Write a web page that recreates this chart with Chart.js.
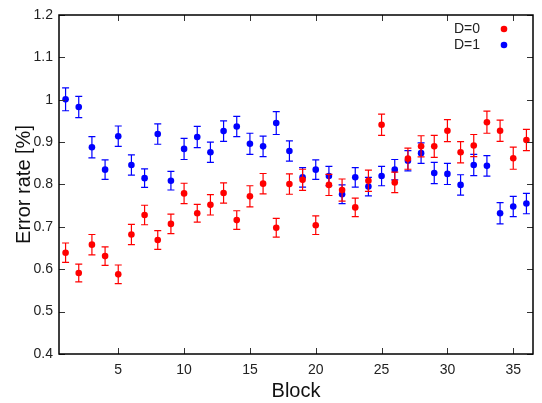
<!DOCTYPE html>
<html><head><meta charset="utf-8">
<script src="https://cdn.jsdelivr.net/npm/chart.js@4.4.0/dist/chart.umd.min.js"></script>
<style>html,body{margin:0;padding:0;background:#fff}</style>
</head><body>
<canvas id="c" width="542" height="403"></canvas>
<script>
const blocks = [1,2,3,4,5,6,7,8,9,10,11,12,13,14,15,16,17,18,19,20,21,22,23,24,25,26,27,28,29,30,31,32,33,34,35,36];
const d0 = [0.639,0.591,0.658,0.631,0.588,0.682,0.728,0.669,0.707,0.779,0.732,0.752,0.780,0.716,0.772,0.802,0.698,0.801,0.811,0.704,0.799,0.787,0.746,0.809,0.941,0.805,0.861,0.890,0.890,0.927,0.876,0.892,0.947,0.927,0.862,0.905];
const d0err = [0.023,0.021,0.024,0.022,0.022,0.024,0.023,0.022,0.023,0.024,0.021,0.024,0.024,0.022,0.025,0.024,0.022,0.024,0.025,0.022,0.025,0.026,0.022,0.025,0.025,0.024,0.025,0.025,0.026,0.026,0.025,0.026,0.026,0.025,0.026,0.025];
const d1 = [1.001,0.983,0.888,0.835,0.914,0.846,0.815,0.919,0.809,0.884,0.912,0.876,0.926,0.937,0.896,0.890,0.945,0.879,0.817,0.835,0.820,0.777,0.817,0.795,0.820,0.835,0.856,0.874,0.827,0.825,0.799,0.846,0.844,0.732,0.748,0.755];
const d1err = [0.027,0.025,0.025,0.023,0.024,0.024,0.022,0.024,0.022,0.025,0.025,0.024,0.024,0.024,0.025,0.024,0.027,0.024,0.023,0.023,0.023,0.022,0.023,0.022,0.023,0.024,0.024,0.024,0.025,0.025,0.024,0.025,0.024,0.025,0.024,0.024];
const xTicks = [5,10,15,20,25,30,35];
const yTicks = [0.4,0.5,0.6,0.7,0.8,0.9,1.0,1.1,1.2];
const seriesNames = ['D=0','D=1'];
const seriesColors = ['#ff0000','#0000ff'];

const FONT = 'Liberation Sans, Arial, sans-serif';

function toPoints(vals){ return blocks.map((b,i)=>({x:b,y:vals[i]})); }
const errs = [d0err, d1err];

const errorBars = {
  id:'errorBars',
  beforeDatasetDraw(chart, args){
    const i = args.index;
    const ds = chart.data.datasets[i];
    const xs = chart.scales.x, ys = chart.scales.y;
    const ctx = chart.ctx;
    ctx.save();
    ctx.strokeStyle = ds.borderColor;
    ctx.lineWidth = 1.2;
    ds.data.forEach((p,k)=>{
      const e = errs[i][k];
      const px = xs.getPixelForValue(p.x);
      const pt = ys.getPixelForValue(p.y + e);
      const pb = ys.getPixelForValue(p.y - e);
      ctx.beginPath();
      ctx.moveTo(px, pt); ctx.lineTo(px, pb);
      ctx.moveTo(px-3.5, pt); ctx.lineTo(px+3.5, pt);
      ctx.moveTo(px-3.5, pb); ctx.lineTo(px+3.5, pb);
      ctx.stroke();
    });
    ctx.restore();
  }
};

const frame = {
  id:'frame',
  afterDraw(chart){
    const {ctx, chartArea:a} = chart;
    const xs = chart.scales.x, ys = chart.scales.y;
    ctx.save();
    ctx.strokeStyle = '#333';
    ctx.lineWidth = 1;
    ctx.beginPath();
    xTicks.forEach(v=>{
      const px = Math.round(xs.getPixelForValue(v))+0.5;
      ctx.moveTo(px, a.bottom); ctx.lineTo(px, a.bottom-6);
      ctx.moveTo(px, a.top); ctx.lineTo(px, a.top+6);
    });
    yTicks.forEach(v=>{
      const py = Math.round(ys.getPixelForValue(v))+0.5;
      ctx.moveTo(a.left, py); ctx.lineTo(a.left+6, py);
      ctx.moveTo(a.right, py); ctx.lineTo(a.right-6, py);
    });
    ctx.stroke();
    ctx.strokeStyle = '#000';
    ctx.lineWidth = 1.5;
    ctx.strokeRect(a.left, a.top, a.right-a.left, a.bottom-a.top);
    // legend
    ctx.font = '14px ' + FONT;
    ctx.fillStyle = '#222';
    ctx.textAlign = 'right';
    ctx.textBaseline = 'middle';
    seriesNames.forEach((n,k)=>{
      const y = 29 + k*16;
      ctx.fillStyle = '#222';
      ctx.fillText(n, 480, y);
      ctx.fillStyle = seriesColors[k];
      ctx.beginPath(); ctx.arc(504, y, 3.3, 0, Math.PI*2); ctx.fill();
    });
    ctx.restore();
  }
};

new Chart(document.getElementById('c'), {
  type:'scatter',
  data:{
    datasets:[
      {label:seriesNames[0], data:toPoints(d0), backgroundColor:seriesColors[0], borderColor:seriesColors[0], pointRadius:3.3, pointBorderWidth:0},
      {label:seriesNames[1], data:toPoints(d1), backgroundColor:seriesColors[1], borderColor:seriesColors[1], pointRadius:3.3, pointBorderWidth:0}
    ]
  },
  options:{
    responsive:false,
    animation:false,
    devicePixelRatio:1,
    layout:{padding:{top:15, right:9, left:0, bottom:0}},
    plugins:{legend:{display:false}, tooltip:{enabled:false}},
    scales:{
      x:{
        type:'linear', min:0.5, max:36.5,
        afterBuildTicks(s){ s.ticks = xTicks.map(v=>({value:v})); },
        afterFit(s){ s.height = 49; },
        grid:{display:false, drawTicks:false},
        border:{display:false},
        ticks:{padding:8, color:'#222', font:{family:FONT, size:14}, maxRotation:0, autoSkip:false, callback:v=>String(v)},
        title:{display:true, text:'Block', color:'#111', font:{family:FONT, size:20}, padding:{top:0,bottom:0}}
      },
      y:{
        type:'linear', min:0.4, max:1.2,
        afterBuildTicks(s){ s.ticks = yTicks.map(v=>({value:v})); },
        afterFit(s){ s.width = 59; },
        grid:{display:false, drawTicks:false},
        border:{display:false},
        ticks:{padding:6, color:'#222', font:{family:FONT, size:14}, autoSkip:false, callback:v=>String(+v.toFixed(1))},
        title:{display:true, text:'Error rate [%]', color:'#111', font:{family:FONT, size:20}, padding:{top:12,bottom:0}}
      }
    }
  },
  plugins:[errorBars, frame]
});
</script>
</body></html>
